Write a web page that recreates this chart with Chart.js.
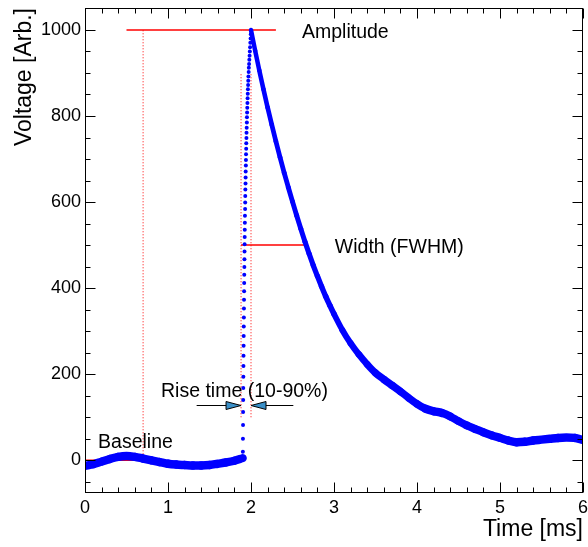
<!DOCTYPE html>
<html>
<head>
<meta charset="utf-8">
<script src="https://cdn.jsdelivr.net/npm/chart.js@4"></script>
<style>
  body { margin: 0; background: #fff; }
  canvas { display: block; }
</style>
</head>
<body>
<canvas id="pulse" width="588" height="547"></canvas>
<script>
// baseline before the pulse [ms], [Arb.]
const baseTime = [0, 0.1, 0.2, 0.3, 0.4, 0.5, 0.6, 0.7, 0.8, 0.9, 1.0, 1.1, 1.2, 1.3, 1.4, 1.5, 1.6, 1.7, 1.8, 1.9];
const baseVolt = [-13, -9, -3, 3, 8, 10, 8, 4, 0, -4, -8, -10, -11, -12, -12, -11, -8, -5, -1, 5];

// rising edge, single samples
const riseTime = [1.902, 1.903, 1.904, 1.905, 1.906, 1.907, 1.908, 1.909, 1.910, 1.911,
  1.912, 1.913, 1.914, 1.915, 1.916, 1.917, 1.918, 1.919, 1.920, 1.921,
  1.922, 1.923, 1.924, 1.925, 1.926, 1.927, 1.929, 1.930, 1.931, 1.932,
  1.934, 1.935, 1.936, 1.938, 1.939, 1.940, 1.942, 1.943, 1.945, 1.946,
  1.948, 1.950, 1.951, 1.953, 1.955, 1.957, 1.959, 1.961, 1.963, 1.965,
  1.967, 1.969, 1.972, 1.974, 1.977, 1.980, 1.983, 1.986, 1.989, 1.992,
  1.995, 1.998];
const riseVolt = [20, 50, 82, 112, 140, 168, 194, 219, 243, 266,
  289, 311, 332, 353, 373, 393, 412, 431, 449, 467,
  485, 502, 519, 536, 552, 568, 584, 599, 614, 629,
  643, 657, 671, 685, 698, 711, 724, 737, 749, 761,
  773, 785, 797, 808, 819, 830, 841, 852, 862, 872,
  882, 892, 902, 912, 921, 931, 940, 950, 960, 970,
  980, 990];

// decay after the peak
const tailTime = [2.0, 2.05, 2.1, 2.15, 2.2, 2.25, 2.3, 2.35, 2.4, 2.45, 2.5, 2.55, 2.6, 2.65,
  2.7, 2.75, 2.8, 2.85, 2.9, 2.95, 3.0, 3.1, 3.2, 3.3, 3.4, 3.5, 3.6, 3.7, 3.8, 3.9,
  4.0, 4.1, 4.2, 4.3, 4.4, 4.5, 4.6, 4.7, 4.8, 4.9, 5.0, 5.1, 5.2, 5.3, 5.4, 5.5,
  5.6, 5.7, 5.8, 5.9, 6.0];
const tailVolt = [1000, 952, 906, 862, 820, 780, 741, 704, 668, 634, 601, 569, 538, 508,
  480, 453, 428, 404, 381, 360, 340, 303, 272, 246, 223, 203, 188, 174, 160, 145,
  131, 120, 114, 110, 102, 91, 81, 73, 65, 58, 52, 46, 42, 43, 46, 48,
  50, 52, 53, 52, 47];

const xTicks = [0, 1, 2, 3, 4, 5, 6];
const yTicks = [0, 200, 400, 600, 800, 1000];

const FONT = "'Liberation Sans', Arial, Helvetica, sans-serif";
const BLUE = "#0000ff";
const RED = "#ff0000";

function pts(xs, ys) {
  return xs.map((x, i) => ({ x: x, y: ys[i] }));
}

// band is thinner where the trace is steep (noise is vertical)
function bandWidth(c) {
  const dx = c.p1.x - c.p0.x, dy = c.p1.y - c.p0.y;
  return 3.5 + 5 * Math.abs(dx) / Math.hypot(dx, dy);
}

function arrowHead(ctx, tipX, y, dir) {
  ctx.beginPath();
  ctx.moveTo(tipX, y);
  ctx.lineTo(tipX - dir * 15, y - 4);
  ctx.lineTo(tipX - dir * 15, y + 4);
  ctx.closePath();
  ctx.fillStyle = "#3a8fc7";
  ctx.fill();
  ctx.strokeStyle = "#000";
  ctx.lineWidth = 1;
  ctx.stroke();
}

const marks = {
  id: "marks",
  beforeDatasetsDraw(chart) {
    const { ctx } = chart;
    const X = v => chart.scales.x.getPixelForValue(v);
    const Y = v => chart.scales.y.getPixelForValue(v);
    const seg = (x0, y0, x1, y1) => {
      ctx.beginPath();
      ctx.moveTo(X(x0), Y(y0));
      ctx.lineTo(X(x1), Y(y1));
      ctx.stroke();
    };
    ctx.save();
    ctx.strokeStyle = RED;
    ctx.lineWidth = 1.5;
    seg(0.5, 1000, 2.3, 1000);
    seg(0, 0, 0.7, 0);
    seg(1.88, 500, 2.65, 500);
    ctx.lineWidth = 1;
    ctx.setLineDash([1, 2]);
    seg(0.7, 0, 0.7, 1000);
    seg(1.88, 100, 1.88, 900);
    seg(2.0, 100, 2.0, 900);
    ctx.restore();
  },
  afterDatasetsDraw(chart) {
    const { ctx, chartArea: a } = chart;
    const X = v => chart.scales.x.getPixelForValue(v);
    const Y = v => chart.scales.y.getPixelForValue(v);
    ctx.save();

    // rise time arrows
    const ay = Math.round(Y(129)) + 0.5;
    ctx.strokeStyle = "#000";
    ctx.lineWidth = 1;
    ctx.beginPath();
    ctx.moveTo(X(1.345), ay); ctx.lineTo(X(1.88) - 14, ay);
    ctx.moveTo(X(2.51), ay); ctx.lineTo(X(2.0) + 14, ay);
    ctx.stroke();
    arrowHead(ctx, X(1.88), ay, 1);
    arrowHead(ctx, X(2.0), ay, -1);

    // labels
    ctx.fillStyle = "#000";
    ctx.font = "19.5px " + FONT;
    ctx.textBaseline = "alphabetic";
    ctx.textAlign = "left";
    ctx.fillText("Amplitude", X(2.614), Y(981));
    ctx.fillText("Width (FWHM)", X(3.01), Y(482));
    ctx.fillText("Rise time (10-90%)", X(0.916), Y(147));
    ctx.fillText("Baseline", X(0.157), Y(29));

    // frame with inward ticks
    const L = Math.round(a.left) + 0.5, R = Math.round(a.right) - 0.5;
    const T = Math.round(a.top) + 0.5, B = Math.round(a.bottom) - 0.5;
    ctx.strokeStyle = "#000";
    ctx.lineWidth = 1;
    ctx.strokeRect(L, T, R - L, B - T);
    ctx.beginPath();
    for (let i = 0; i <= 30; i++) {
      const px = Math.round(X(i * 0.2)) + 0.5;
      const len = i % 5 === 0 ? 10 : 5;
      ctx.moveTo(px, B); ctx.lineTo(px, B - len);
      ctx.moveTo(px, T); ctx.lineTo(px, T + len);
    }
    for (let v = -50; v <= 1050; v += 50) {
      const py = Math.round(Y(v)) + 0.5;
      if (py < T || py > B) continue;
      const len = v % 200 === 0 ? 10 : 5;
      ctx.moveTo(L, py); ctx.lineTo(L + len, py);
      ctx.moveTo(R, py); ctx.lineTo(R - len, py);
    }
    ctx.stroke();
    ctx.restore();
  }
};

new Chart(document.getElementById("pulse"), {
  type: "scatter",
  data: {
    datasets: [
      {
        data: pts(baseTime, baseVolt),
        showLine: true,
        borderColor: BLUE,
        borderWidth: 8,
        borderCapStyle: "round",
        borderJoinStyle: "round",
        cubicInterpolationMode: "monotone",
        pointRadius: 0,
        segment: { borderWidth: bandWidth }
      },
      {
        data: pts(riseTime, riseVolt),
        showLine: false,
        pointRadius: 2,
        pointBorderWidth: 0,
        backgroundColor: BLUE
      },
      {
        data: pts(tailTime, tailVolt),
        showLine: true,
        borderColor: BLUE,
        borderWidth: 8,
        borderCapStyle: "round",
        borderJoinStyle: "round",
        cubicInterpolationMode: "monotone",
        pointRadius: 0,
        segment: { borderWidth: bandWidth }
      }
    ]
  },
  options: {
    responsive: false,
    animation: false,
    layout: {
      padding: { top: 8, right: 5, left: 0, bottom: 0 }
    },
    plugins: {
      legend: { display: false },
      tooltip: { enabled: false }
    },
    scales: {
      x: {
        type: "linear",
        min: 0,
        max: 6,
        afterBuildTicks: s => { s.ticks = xTicks.map(v => ({ value: v })); },
        afterFit: s => { s.height = 54; s.paddingLeft = 0; s.paddingRight = 0; },
        grid: { display: false, drawTicks: false },
        border: { display: false },
        ticks: {
          padding: 4,
          color: "#000",
          maxRotation: 0,
          callback: v => String(v),
          font: { family: FONT, size: 18 }
        },
        title: {
          display: true,
          text: "Time [ms]",
          align: "end",
          color: "#000",
          padding: { top: 0, bottom: 4 },
          font: { family: FONT, size: 23 }
        }
      },
      y: {
        type: "linear",
        min: -76,
        max: 1051,
        afterBuildTicks: s => { s.ticks = yTicks.map(v => ({ value: v })); },
        afterFit: s => { s.width = 85; s.paddingTop = 0; s.paddingBottom = 0; },
        grid: { display: false, drawTicks: false },
        border: { display: false },
        ticks: {
          padding: 4,
          color: "#000",
          callback: v => String(v),
          font: { family: FONT, size: 18 }
        },
        title: {
          display: true,
          text: "Voltage [Arb.]",
          align: "end",
          color: "#000",
          padding: { top: 11, bottom: 0 },
          font: { family: FONT, size: 23 }
        }
      }
    }
  },
  plugins: [marks]
});
</script>
</body>
</html>
